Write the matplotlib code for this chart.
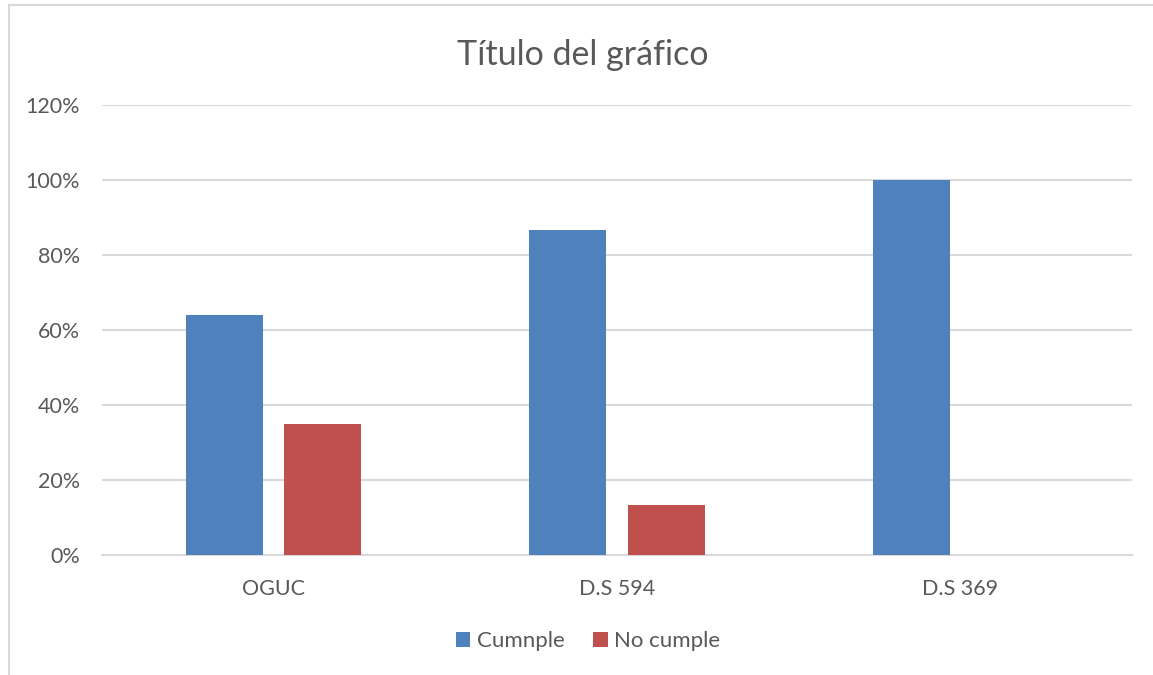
import matplotlib.pyplot as plt
from matplotlib.lines import Line2D
import numpy as np

categorias = ['OGUC', 'D.S 594', 'D.S 369']
cumple = [0.64, 0.867, 1.00]
no_cumple = [0.35, 0.133, 0.0]
series = ['Cumnple', 'No cumple']
ticks_y = [0, 0.2, 0.4, 0.6, 0.8, 1.0, 1.2]

plt.rcParams['font.family'] = ['Lato', 'DejaVu Sans']
gris = '#595959'
linea = '#d9d9d9'

fig = plt.figure(figsize=(11.53, 6.75), dpi=100)
ax = fig.add_axes([102 / 1153, 1 - 555 / 675, 1030 / 1153, 450 / 675])

x = np.arange(len(categorias))
ancho = 0.224
desp = 0.143
ax.bar(x - desp, cumple, ancho, color='#4f81bd', label=series[0], zorder=3)
ax.bar(x + desp, no_cumple, ancho, color='#c0504d', label=series[1], zorder=3)

ax.set_xlim(-0.5, len(categorias) - 0.5)
ax.set_ylim(0, 1.2)
ax.set_yticks(ticks_y)
ax.set_yticklabels([f'{int(round(t * 100))}%' for t in ticks_y])
ax.set_xticks(x)
ax.set_xticklabels(categorias)
ax.tick_params(axis='both', length=0, colors=gris, labelsize=15.5)
ax.tick_params(axis='y', pad=16)
ax.tick_params(axis='x', pad=17)

ax.grid(axis='y', color=linea, linewidth=1.5, zorder=0)
for s in ['top', 'right', 'left']:
    ax.spines[s].set_visible(False)
ax.spines['bottom'].set_color(linea)
ax.spines['bottom'].set_linewidth(1.5)

fig.text(583 / 1153, 1 - 55 / 675, 'Título del gráfico', ha='center', va='center',
         fontsize=24.5, color=gris)

leg = fig.legend(loc='center', bbox_to_anchor=(588 / 1153, 1 - 641 / 675), ncol=2,
                 frameon=False, fontsize=16, handlelength=0.65, handleheight=0.65,
                 handletextpad=0.3, columnspacing=1.3)
for t in leg.get_texts():
    t.set_color(gris)

# borde del area del grafico
fig.add_artist(Line2D([9 / 1153, 9 / 1153], [0, 1 - 5 / 675], color=linea, linewidth=1.5))
fig.add_artist(Line2D([9 / 1153, 1], [1 - 5 / 675, 1 - 5 / 675], color=linea, linewidth=1.5))

fig.savefig('out.png', dpi=100)
